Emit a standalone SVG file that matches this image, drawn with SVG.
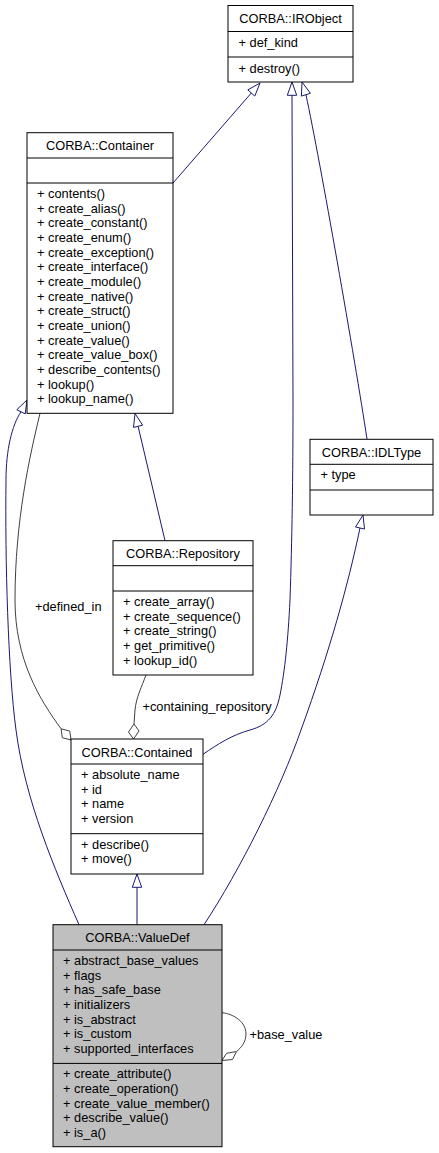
<svg xmlns="http://www.w3.org/2000/svg" width="439" height="1153" viewBox="0 0 439 1153">
<style>
text{font-family:"Liberation Sans",Arial,Helvetica,sans-serif;font-size:12.8px;fill:#000}
.t{text-anchor:middle}
.box{fill:#fff;stroke:#000;stroke-width:1}
.cur{fill:#bfbfbf}
.sep{stroke:#000;stroke-width:1}
.inh{fill:none;stroke:#191970;stroke-width:1}
.inhh{fill:#fff;stroke:#191970;stroke-width:1}
.agg{fill:none;stroke:#404040;stroke-width:1}
.aggh{fill:#fff;stroke:#404040;stroke-width:1}
</style>
<rect width="439" height="1153" fill="#fff"/>
<g id="connectors">
<!-- Container -> IRObject -->
<path class="inh" d="M173,183 L251.3,93"/>
<polygon class="inhh" points="260,83 254.8,96.1 247.8,89.9"/>
<!-- Contained -> IRObject -->
<path class="inh" d="M203,754.3 C218,744 232,735 250,730 C268,725 276,715 280,695 C285,670 288,640 290,600 C292,540 293,480 293,400 L292,95.3"/>
<polygon class="inhh" points="292,82 296.7,95.3 287.3,95.3"/>
<!-- IDLType -> IRObject -->
<path class="inh" d="M367,439 C355,360 320,160 306,95"/>
<polygon class="inhh" points="302,82 310.4,93.3 301.4,96.1"/>
<!-- Repository -> Container -->
<path class="inh" d="M165,540.7 L138.1,426.3"/>
<polygon class="inhh" points="135,413.5 142.6,425.2 133.5,427.4"/>
<!-- Container -> ValueDef -->
<path class="inh" d="M79,924.7 C55,870 25,800 16,730 C8,670 5,560 6,480 C6,450 12,425 21,411.8"/>
<polygon class="inhh" points="27,400 25.2,413.9 16.8,409.7"/>
<!-- Contained -> ValueDef -->
<path class="inh" d="M137,924.7 L137,887.3"/>
<polygon class="inhh" points="137,874 141.7,887.3 132.3,887.3"/>
<!-- IDLType -> ValueDef -->
<path class="inh" d="M204,924.7 C240,870 280,790 301,730 C330,650 348,585 360,528"/>
<polygon class="inhh" points="363,515 364.5,529 355.5,527"/>
<!-- defined_in -->
<path class="agg" d="M40,413.3 C30,455 15,520 15,600 C15,660 40,700 61.1,728.8"/>
<polygon class="aggh" points="71,740 62.3,737.7 61.1,728.8 69.8,731.1"/>
<text x="35" y="611">+defined_in</text>
<!-- containing_repository -->
<path class="agg" d="M146,675 C142,686 136,698 135,710 L134,724"/>
<polygon class="aggh" points="134,724 139,731 133.5,739 128.5,732"/>
<text x="142.5" y="711">+containing_repository</text>
<!-- base_value -->
<path class="agg" d="M222,1012.7 C234,1014 246,1022 246,1034 C246,1042 241,1048 236.5,1051.5"/>
<polygon class="aggh" points="222,1060.5 226.5,1053.3 236.5,1051.5 232.5,1059.5"/>
<text x="249.5" y="1039">+base_value</text>
</g>
<g id="IRObject">
<rect class="box" x="228" y="5.5" width="125" height="76.5"/>
<line class="sep" x1="228" y1="31.5" x2="353" y2="31.5"/>
<line class="sep" x1="228" y1="57" x2="353" y2="57"/>
<text class="t" x="290.5" y="23">CORBA::IRObject</text>
<text x="238.5" y="46.7">+ def_kind</text>
<text x="238.5" y="72.5">+ destroy()</text>
</g>
<g id="Container">
<rect class="box" x="27" y="132.7" width="146" height="280.6"/>
<line class="sep" x1="27" y1="158" x2="173" y2="158"/>
<line class="sep" x1="27" y1="183" x2="173" y2="183"/>
<text class="t" x="100" y="150.2">CORBA::Container</text>
<text x="37" y="198">+ contents()</text>
<text x="37" y="212.67">+ create_alias()</text>
<text x="37" y="227.33">+ create_constant()</text>
<text x="37" y="242">+ create_enum()</text>
<text x="37" y="256.67">+ create_exception()</text>
<text x="37" y="271.33">+ create_interface()</text>
<text x="37" y="286">+ create_module()</text>
<text x="37" y="300.67">+ create_native()</text>
<text x="37" y="315.33">+ create_struct()</text>
<text x="37" y="330">+ create_union()</text>
<text x="37" y="344.67">+ create_value()</text>
<text x="37" y="359.33">+ create_value_box()</text>
<text x="37" y="374">+ describe_contents()</text>
<text x="37" y="388.67">+ lookup()</text>
<text x="37" y="403.33">+ lookup_name()</text>
</g>
<g id="IDLType">
<rect class="box" x="310" y="439.3" width="123" height="75.7"/>
<line class="sep" x1="310" y1="464.3" x2="433" y2="464.3"/>
<line class="sep" x1="310" y1="490" x2="433" y2="490"/>
<text class="t" x="371.5" y="456.8">CORBA::IDLType</text>
<text x="320.5" y="479.3">+ type</text>
</g>
<g id="Repository">
<rect class="box" x="113" y="540.7" width="140" height="134.3"/>
<line class="sep" x1="113" y1="565.7" x2="253" y2="565.7"/>
<line class="sep" x1="113" y1="591" x2="253" y2="591"/>
<text class="t" x="183" y="558.2">CORBA::Repository</text>
<text x="123" y="606">+ create_array()</text>
<text x="123" y="620.67">+ create_sequence()</text>
<text x="123" y="635.33">+ create_string()</text>
<text x="123" y="650">+ get_primitive()</text>
<text x="123" y="664.67">+ lookup_id()</text>
</g>
<g id="Contained">
<rect class="box" x="71" y="739" width="132" height="135"/>
<line class="sep" x1="71" y1="764" x2="203" y2="764"/>
<line class="sep" x1="71" y1="833.7" x2="203" y2="833.7"/>
<text class="t" x="137" y="756.5">CORBA::Contained</text>
<text x="81" y="779">+ absolute_name</text>
<text x="81" y="793.67">+ id</text>
<text x="81" y="808.33">+ name</text>
<text x="81" y="823">+ version</text>
<text x="81" y="848.7">+ describe()</text>
<text x="81" y="863.37">+ move()</text>
</g>
<g id="ValueDef">
<rect class="box cur" x="53" y="924.7" width="169" height="222"/>
<line class="sep" x1="53" y1="950" x2="222" y2="950"/>
<line class="sep" x1="53" y1="1063.4" x2="222" y2="1063.4"/>
<text class="t" x="137.5" y="942.2">CORBA::ValueDef</text>
<text x="63" y="965">+ abstract_base_values</text>
<text x="63" y="979.67">+ flags</text>
<text x="63" y="994.33">+ has_safe_base</text>
<text x="63" y="1009">+ initializers</text>
<text x="63" y="1023.67">+ is_abstract</text>
<text x="63" y="1038.33">+ is_custom</text>
<text x="63" y="1053">+ supported_interfaces</text>
<text x="63" y="1078.4">+ create_attribute()</text>
<text x="63" y="1093.07">+ create_operation()</text>
<text x="63" y="1107.73">+ create_value_member()</text>
<text x="63" y="1122.4">+ describe_value()</text>
<text x="63" y="1137.07">+ is_a()</text>
</g>
</svg>
